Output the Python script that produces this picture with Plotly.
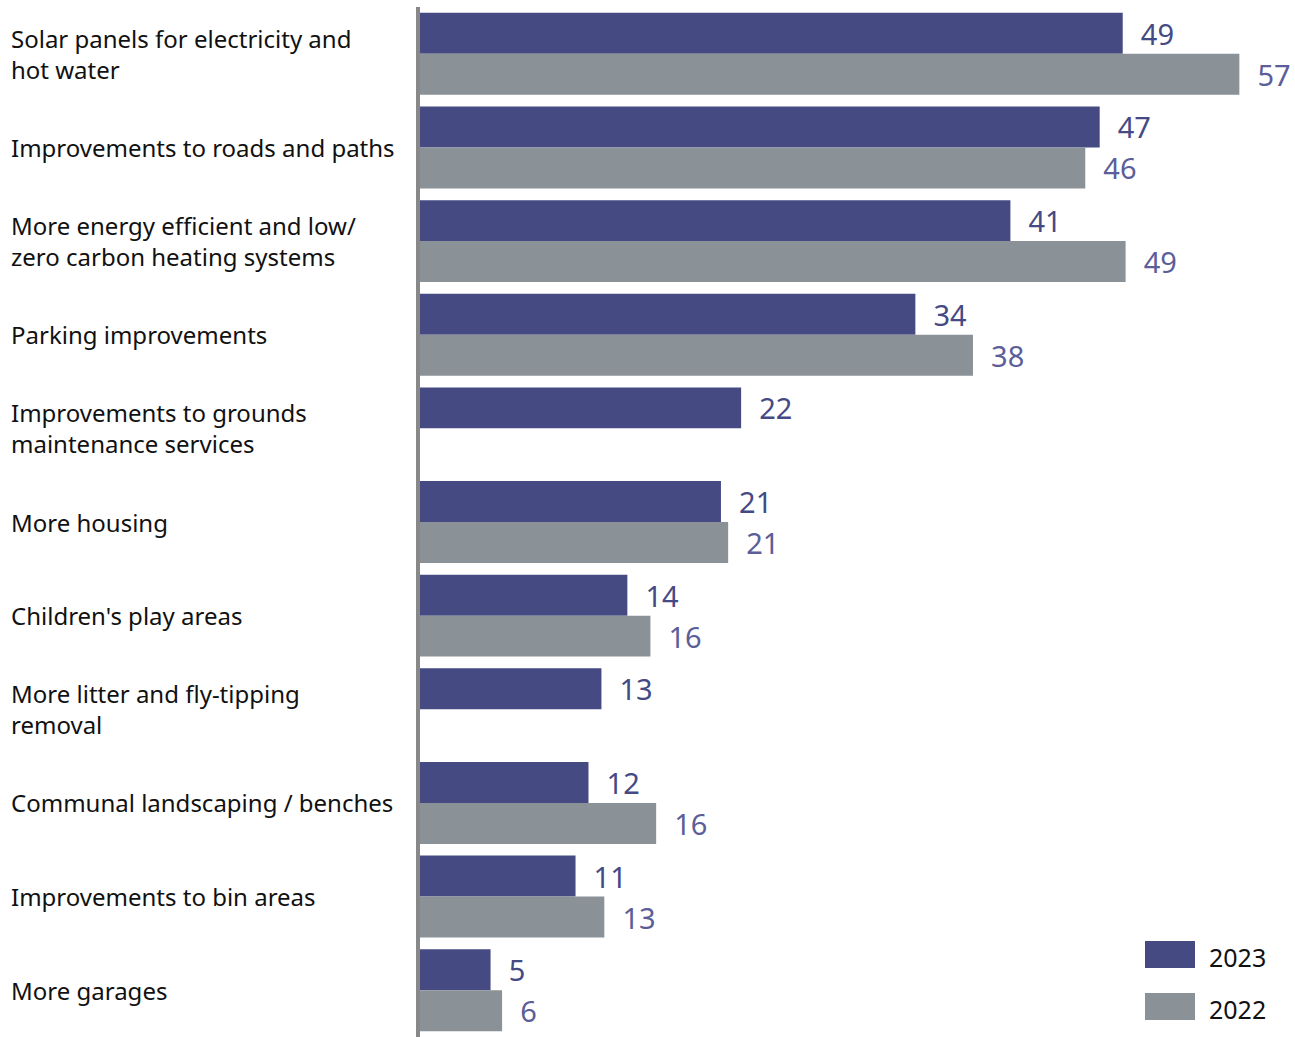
import plotly.graph_objects as go

categories = [
    "Solar panels for electricity and<br>hot water",
    "Improvements to roads and paths",
    "More energy efficient and low/<br>zero carbon heating systems",
    "Parking improvements",
    "Improvements to grounds<br>maintenance services",
    "More housing",
    "Children's play areas",
    "More litter and fly-tipping<br>removal",
    "Communal landscaping / benches",
    "Improvements to bin areas",
    "More garages",
]
values_2023 = [48.8, 47.2, 41.0, 34.4, 22.3, 20.9, 14.4, 12.6, 11.7, 10.8, 4.9]
values_2022 = [56.9, 46.2, 49.0, 38.4, None, 21.4, 16.0, None, 16.4, 12.8, 5.7]
series_names = ["2023", "2022"]

bar_colors = ["#454a82", "#8a9197"]
label_colors = ["#454a85", "#5b5e99"]
FONT = "Noto Sans"

fig = go.Figure()
for name, vals, bc, lc in zip(series_names, [values_2023, values_2022], bar_colors, label_colors):
    fig.add_trace(go.Bar(
        y=categories, x=vals, name=name, orientation="h",
        marker=dict(color=bc, line=dict(width=0)),
        texttemplate="\u00a0\u00a0%{x:.0f}", textposition="outside",
        textfont=dict(family=FONT, size=29, color=lc),
        cliponaxis=False, constraintext="none",
    ))

TOP = 7
fig.update_layout(
    barmode="group", bargap=0.125, bargroupgap=0,
    width=1295, height=1037,
    margin=dict(l=420, r=11, t=TOP, b=0),
    paper_bgcolor="white", plot_bgcolor="white",
    showlegend=False,
    font=dict(family=FONT, size=24, color="#111111"),
)
fig.update_xaxes(range=[0, 60], visible=False)
fig.update_yaxes(autorange="reversed", showticklabels=False, showgrid=False,
                 showline=True, linecolor="#888888", linewidth=4, ticks="")

plot_w = 1295 - 420 - 11
for c in categories:
    fig.add_annotation(
        x=(9 - 420) / plot_w, xref="paper", y=c, yref="y",
        text=c, showarrow=False, xanchor="left", yanchor="middle", align="left",
        font=dict(family=FONT, size=24, color="#111111"),
    )

plot_h = 1037 - TOP
def py(pix):
    return (1037 - pix) / plot_h
def px(pix):
    return (pix - 420) / plot_w

legend_rows = [(941, 968), (993, 1020)]
for name, bc, (y0, y1) in zip(series_names, bar_colors, legend_rows):
    fig.add_shape(type="rect", xref="paper", yref="paper",
                  x0=px(1145), x1=px(1195), y0=py(y1), y1=py(y0),
                  fillcolor=bc, line=dict(width=0))
    fig.add_annotation(x=px(1207), xref="paper", y=py((y0 + y1) / 2 + 2), yref="paper",
                       text=name, showarrow=False, xanchor="left", yanchor="middle",
                       font=dict(family=FONT, size=25, color="#111111"))

fig.write_html("out.html")
